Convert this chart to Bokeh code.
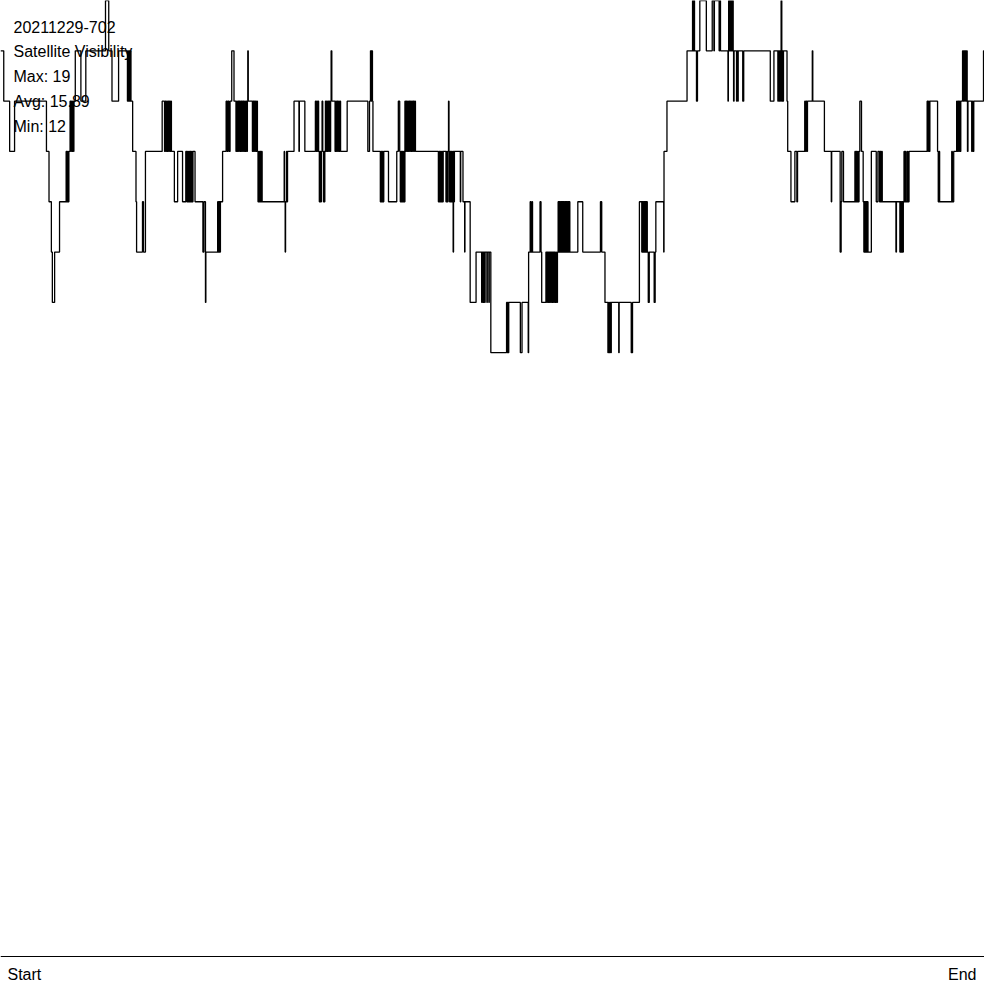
from bokeh.plotting import figure
from bokeh.models import Range1d, Span, Label
from bokeh.embed import file_html
from bokeh.resources import INLINE

# ---- data: (time index, number of visible satellites) at each change ----
seg_a = [(0, 18), (3.3, 17), (9.3, 16), (14.3, 17), (46.7, 16), (49.3, 15), (51.7, 14), (52.7, 13),
         (55, 14), (60, 15), (66.7, 16), (67.4, 15), (68.1, 16), (68.8, 15), (69.5, 16),
         (70.7, 17), (71.4, 16), (72.1, 17), (72.8, 16), (73.5, 17), (74.2, 16), (74.6, 17),
         (76, 18), (81.7, 17), (86.7, 18), (106.7, 19), (110, 18), (113.3, 17), (120, 18)]
seg_b = [(129, 17), (129.6, 18), (130.2, 17), (130.8, 18), (131.4, 17), (132, 18), (132.6, 17),
         (134.3, 16), (137.7, 15), (138.3, 14), (144.3, 15), (145.3, 14), (147.3, 16), (164.3, 17),
         (166.7, 16), (167.4, 17), (168.1, 16), (168.8, 17), (169.5, 16), (170.2, 17), (170.9, 16),
         (171.6, 17), (172.3, 16), (173, 17), (173.7, 16), (176.7, 15), (180, 16), (185, 15), (188.3, 16),
         (189.3, 15), (190, 16), (190.7, 15), (191.4, 16), (192.1, 15), (192.8, 16), (193.5, 15),
         (194.2, 16), (194.9, 15), (195.6, 16), (197.7, 15), (205.7, 14), (206.7, 15), (208.3, 13),
         (208.7, 14), (220.7, 15), (221.4, 14), (222.1, 15), (222.8, 14), (223.5, 15), (225.7, 16),
         (229.3, 17), (230.3, 16), (231, 17), (232.3, 16), (233.3, 17), (235, 18), (237.3, 17),
         (239.3, 16), (240, 17), (240.7, 16), (241.4, 17), (242.1, 16), (242.4, 17),
         (243.3, 16), (244, 17), (244.6, 16), (245, 17),
         (246, 16), (246.7, 17), (247.4, 16), (248.1, 17), (248.8, 16), (249.5, 17)]
seg_c = [(250.2, 16), (250.9, 17), (251.3, 18), (251.8, 17), (256, 16), (256.6, 17), (257.3, 16),
         (257.6, 17), (258.3, 16), (259, 17), (259.7, 16), (260.4, 17), (261.1, 16),
         (261.7, 15), (262.4, 16), (263.1, 15), (263.8, 16), (264.5, 15), (265.2, 16), (265.9, 15),
         (288.3, 16), (288.7, 15), (289.3, 14), (289.7, 15), (290.7, 16), (291.2, 15), (291.7, 16),
         (298.3, 17), (303.3, 16), (303.7, 17), (309.3, 16),
         (320, 17), (320.7, 16), (321.4, 17), (322.1, 16), (322.8, 17), (323.3, 16),
         (324, 15), (324.7, 16), (325.4, 15), (326.1, 16), (326.8, 17), (327.5, 16), (328.2, 15),
         (328.9, 16), (329.3, 15), (329.6, 16), (330.2, 17), (330.8, 16), (331.4, 17), (332.1, 16),
         (332.8, 17), (333.5, 16), (334.2, 17), (334.9, 16), (335.5, 17), (336, 18), (336.7, 17),
         (340, 16), (340.7, 17), (341.4, 16), (342.1, 17), (342.8, 16), (343.5, 17), (344.2, 16),
         (344.9, 17), (345.6, 16), (352.3, 17), (373.3, 16)]
seg_d = [(375, 17), (376, 18), (376.7, 17), (377.3, 18), (378, 17), (378.5, 16),
         (386, 15), (386.7, 16), (387.4, 15), (388.1, 16), (388.8, 15), (389.5, 16),
         (394.3, 15), (402.7, 16), (404.3, 17), (405.7, 16),
         (406.3, 15), (407, 16), (407.7, 15), (408.4, 16), (409.1, 15), (409.8, 16), (410.5, 15),
         (411, 17), (411.7, 16), (412.4, 17), (413.1, 16), (413.8, 17), (414.5, 16), (415.2, 17),
         (415.9, 16), (416.6, 17), (417.3, 16), (418, 17), (418.7, 16), (419.4, 17), (420.1, 16),
         (420.8, 17), (421.7, 16),
         (445, 15), (445.7, 16), (446.4, 15), (447.1, 16), (447.8, 15), (448.5, 16), (449.2, 15),
         (449.9, 16), (452.7, 15), (453.4, 16), (454.1, 15), (454.8, 16), (455.3, 17), (455.8, 16),
         (456.3, 15), (456.9, 16), (457.5, 15), (458.2, 16), (458.9, 15), (459.6, 16), (460, 14),
         (460.4, 16), (461, 15), (461.3, 16), (467.3, 15), (467.7, 16), (470, 15), (471.7, 14),
         (472, 15), (477.3, 13), (483.3, 14),
         (489, 13), (489.7, 14), (490.4, 13), (491.1, 14), (491.8, 13), (492.5, 14),
         (494.3, 13), (494.7, 14), (496.3, 13), (496.7, 14), (498.3, 12)]
seg_e = [(514.3, 13), (515, 12), (515.5, 13), (516, 12), (516.5, 13),
         (528.3, 12), (530, 13), (536.3, 12), (536.7, 14),
         (538.3, 15), (539, 14), (540, 15), (540.7, 14), (548.3, 15), (549.3, 14), (550, 13),
         (554.3, 14), (555, 13), (555.7, 14), (556.4, 13), (557.1, 14), (557.8, 13), (558.5, 14),
         (559.2, 13), (559.9, 14), (560.6, 13), (561.3, 14), (562, 13), (562.7, 14), (563.4, 13),
         (564.3, 14), (565, 13), (566, 14),
         (566.7, 15), (567.4, 14), (568.1, 15), (568.8, 14), (569.5, 15), (570.2, 14), (570.9, 15),
         (571.6, 14), (572.3, 15), (573, 14), (573.7, 15), (574.4, 14), (575.1, 15), (575.8, 14),
         (576.5, 15), (577.2, 14), (577.9, 15), (578.6, 14),
         (586.7, 15), (591.7, 14), (609.7, 15), (611, 14), (614.3, 13),
         (617.3, 12), (618, 13), (618.7, 12), (619.4, 13), (620.1, 12), (620.7, 13)]
seg_f = [(628.3, 12), (628.7, 13), (641, 12), (642.3, 13), (649.3, 15),
         (651.7, 14), (652.4, 15), (653.1, 14), (653.8, 15), (654.5, 14), (655.2, 15), (655.9, 14),
         (656.6, 15), (657.3, 14), (658.3, 13), (659.3, 14), (664.3, 13), (665.3, 14), (666, 15),
         (674, 14), (674.3, 16), (677.3, 17), (697.7, 18),
         (703.3, 19), (704, 18), (704.7, 19), (705.3, 18), (707.3, 17), (708.3, 18), (710.7, 19),
         (717.3, 18), (723.3, 19), (725, 18), (725.5, 19), (730.3, 18), (730.8, 19), (731.7, 18),
         (739.3, 17), (739.7, 18), (740, 19), (740.7, 18), (741.4, 19), (742.1, 18), (742.8, 19),
         (743.5, 18), (744.2, 19), (744.6, 18), (745, 17), (745.5, 18), (748, 17), (748.5, 18),
         (749.3, 17), (749.7, 18)]
seg_g = [(754.3, 17), (755.3, 18), (782.3, 17), (786, 18),
         (790, 17), (790.7, 18), (791.4, 17), (792.1, 18), (792.8, 17), (793.3, 19), (794, 17),
         (794.7, 18), (795.3, 17), (795.7, 18), (799.3, 17), (800, 16), (803.3, 15), (807.3, 16),
         (809.3, 15), (810, 16), (817.3, 17), (818, 16), (818.7, 17), (819.4, 16), (820.1, 17),
         (825, 18), (825.5, 17), (837.3, 16), (844.3, 15), (844.7, 16),
         (853.3, 14), (854.3, 15), (855, 16), (856.7, 15),
         (868.3, 16), (869, 15), (869.7, 16), (870.4, 15), (871.1, 16), (871.8, 15), (872.5, 16),
         (873.3, 17)]
seg_h = [(875, 16), (876.7, 15), (877.4, 14), (878.1, 15), (878.8, 14), (879.5, 15), (880.2, 14),
         (880.9, 15), (881.6, 14), (885, 16), (890, 15), (891.7, 16),
         (893.3, 15), (894, 16), (894.7, 15), (895.4, 16), (896.1, 15), (910, 14), (910.5, 15),
         (914, 14), (914.7, 15), (915.4, 14), (916.1, 15), (916.8, 14), (917.5, 15),
         (918.2, 16), (918.9, 15), (919.6, 16), (920.3, 15), (921.7, 16), (922.3, 15), (923.3, 16),
         (941.7, 17), (942.4, 16), (943.1, 17), (943.8, 16), (944.5, 17),
         (952.3, 16), (953, 15), (953.7, 16), (954.4, 15), (966.7, 16), (967.3, 15), (968.7, 16),
         (971.7, 17), (972.4, 16), (973.1, 17), (973.8, 16), (974.5, 17), (975.2, 16), (975.9, 17),
         (977.7, 18), (978.4, 17), (979.1, 18), (979.8, 17), (980.5, 18), (981.2, 17), (981.9, 18),
         (982.4, 17), (982.7, 16), (983.2, 17), (987, 16), (987.7, 17), (988.4, 16), (989.1, 17),
         (999, 18), (1000, 18)]

title_lines = ["20211229-702", "Satellite Visibility", "Max: 19", "Avg: 15.89", "Min: 12"]
x_labels = ["Start", "End"]
t_start, t_end = 0, 1000
y_max = 19

changes = seg_a + seg_b + seg_c + seg_d + seg_e + seg_f + seg_g + seg_h
t_vals = [c[0] for c in changes]
n_vals = [c[1] for c in changes]

W = H = 984
BOTTOM_PAD = 28          # pixels below the zero line, room for Start / End
plot_px = H - BOTTOM_PAD
FONT = "Liberation Sans"

p = figure(width=W, height=H, output_backend="svg", toolbar_location=None,
           x_range=Range1d(t_start, t_end),
           y_range=Range1d(-y_max * BOTTOM_PAD / plot_px, y_max),
           min_border=0, min_border_left=0, min_border_right=0,
           min_border_top=0, min_border_bottom=0)
p.axis.visible = False
p.grid.visible = False
p.outline_line_color = None
p.background_fill_color = "white"
p.border_fill_color = "white"

p.step(t_vals, n_vals, mode="after", line_color="black", line_width=1.3)

p.add_layout(Span(location=0, dimension="width", line_color="black", line_width=1))

for i, txt in enumerate(title_lines):
    p.add_layout(Label(x=13, y=H - 26 - 25 * i, x_units="screen", y_units="screen",
                       text=txt, text_font=FONT, text_font_size="16px", text_color="black",
                       text_baseline="alphabetic", text_align="left"))

p.add_layout(Label(x=7, y=10, x_units="screen", y_units="screen",
                   text=x_labels[0], text_font=FONT, text_font_size="16px", text_color="black",
                   text_baseline="alphabetic", text_align="left"))
p.add_layout(Label(x=W - 8, y=10, x_units="screen", y_units="screen",
                   text=x_labels[1], text_font=FONT, text_font_size="16px", text_color="black",
                   text_baseline="alphabetic", text_align="right"))

open("out.html", "w").write(file_html(p, INLINE))
